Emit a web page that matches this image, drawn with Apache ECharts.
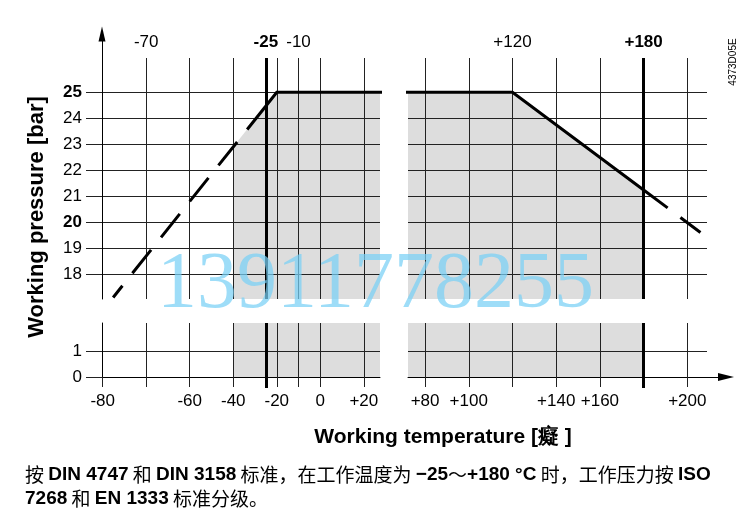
<!DOCTYPE html>
<html><head><meta charset="utf-8">
<script src="https://cdn.jsdelivr.net/npm/echarts@6/dist/echarts.min.js"></script>
<style>html,body{margin:0;padding:0;background:#fff}#c{width:742px;height:526px}</style>
</head><body><div id="c"></div>
<script>
// ---- data (temperature in °C, pressure in bar) ----
const envelope = [[-25, 24.47], [-20, 25], [120, 25], [180, 21.24]];
const shadedRegion = [[-40, 22.9], [-20, 25], [120, 25], [180, 21.24]];
const coldExtension = [[-25, 24.47], [-60, 20.8], [-77.6, 17.1]];
const hotExtension = [[180, 21.24], [206, 19.6]];
const leftGridTemps = [-80, -70, -60, -40, -20, -10, 0, 20];
const rightGridTemps = [80, 100, 120, 140, 160, 200];
const limitTemps = [-25, 180];
const bottomLabelsLeft = [-80, -60, -40, -20, 0, 20];
const bottomLabelsRight = [80, 100, 140, 160, 200];
const topLabelsLeft = [-70, -25, -10];
const topLabelsRight = [120, 180];
const pressureTicksHigh = [18, 19, 20, 21, 22, 23, 24, 25];
const pressureTicksLow = [0, 1];
const boldPressures = [20, 25];
const yTitle = 'Working pressure [bar]';
const xTitle = 'Working temperature [癡 ]';
const docCode = '4373D05E';
const caption = '按 {b|DIN 4747} 和 {b|DIN 3158} 标准，在工作温度为 {b|−25}～{b|+180 °C} 时，工作压力按 {b|ISO}\n{b|7268} 和 {b|EN 1333} 标准分级。';
const watermark = '13911778255';

// The drawing's temperature scale is stretched 2x below -60 °C (left panel)
const pos = t => t >= -60 ? t : -60 + 2 * (t + 60);
const deg = p => p >= -60 ? p : -60 + (p + 60) / 2;
const mapL = arr => arr.map(d => [pos(d[0]), d[1]]);

const FONT = '"Liberation Sans", Arial, sans-serif';
const fmtT = (v, inv) => {
  const t = Math.round(inv ? deg(v) : v);
  const s = t > 0 ? '+' + t : String(t);
  return limitTemps.indexOf(t) >= 0 ? '{b|' + s + '}' : s;
};
const fmtP = v => boldPressures.indexOf(Math.round(v)) >= 0 ? '{b|' + v + '}' : String(v);
const richB = { b: { fontWeight: 'bold', fontSize: 17, fontFamily: FONT, color: '#000' } };
const GRID_LINE = { color: '#222', width: 1 };
const BOLD_LINE = { color: '#000', width: 3 };

const LX = { min: -100.32, max: 27.44 };
const RX = { min: 72.2, max: 209.0 };
const UY = { min: 17.04, max: 26.32 };
const DY = { min: 0, max: 2.08 };

function topAxis(gi, ext, ticks, labels, inv) {
  return { gridIndex: gi, type: 'value', position: 'top', min: ext.min, max: ext.max, z: 3,
    axisLine: { show: false, onZero: false },
    axisTick: { show: false, customValues: ticks },
    axisLabel: { customValues: labels, margin: 7, fontSize: 17, fontFamily: FONT, color: '#000',
      formatter: v => fmtT(v, inv), rich: richB },
    splitLine: { show: true, lineStyle: GRID_LINE } };
}
function bottomAxis(gi, ext, ticks, labels, inv) {
  return { gridIndex: gi, type: 'value', position: 'bottom', min: ext.min, max: ext.max, z: 3,
    axisLine: { show: true, onZero: false, lineStyle: { color: '#000', width: 1 } },
    axisTick: { show: true, customValues: ticks, length: 10, lineStyle: GRID_LINE },
    axisLabel: { customValues: labels, margin: 16, fontSize: 17, fontFamily: FONT, color: '#000',
      formatter: v => fmtT(v, inv), rich: richB },
    splitLine: { show: true, lineStyle: GRID_LINE } };
}
function boldAxis(gi, ext, val, withTick) {
  return { gridIndex: gi, type: 'value', position: 'bottom', min: ext.min, max: ext.max, z: 4,
    axisLine: { show: false, onZero: false },
    axisTick: { show: withTick, customValues: [val], length: 11, lineStyle: BOLD_LINE },
    axisLabel: { show: false },
    splitLine: { show: true, lineStyle: BOLD_LINE } };
}
function yAxisDef(gi, ext, ticks, visible) {
  return { gridIndex: gi, type: 'value', min: ext.min, max: ext.max, z: 3,
    axisLine: { show: visible, onZero: false, lineStyle: { color: '#000', width: 1 } },
    axisTick: { show: visible, customValues: ticks, length: 16, lineStyle: GRID_LINE },
    axisLabel: { show: visible, customValues: ticks, margin: 20, fontSize: 17, fontFamily: FONT,
      color: '#000', formatter: fmtP, rich: richB },
    splitLine: { show: true, lineStyle: GRID_LINE } };
}
const hidden = gi => ({ gridIndex: gi, type: 'value', min: 0, max: 1, show: false });

const lTicks = leftGridTemps.map(pos);
const lim = [pos(limitTemps[0]), limitTemps[1]];

const shade = (xi, yi, data) => ({ type: 'line', xAxisIndex: xi, yAxisIndex: yi, data: data, z: 2,
  symbol: 'none', silent: true, clip: true, lineStyle: { width: 0, opacity: 0 },
  areaStyle: { color: '#dddddd', opacity: 1, origin: 'start' } });
const curve = (xi, yi, data, dash) => ({ type: 'line', xAxisIndex: xi, yAxisIndex: yi, data: data, z: 6,
  symbol: 'none', silent: true, clip: true,
  lineStyle: { color: '#000', width: 3, type: dash || 'solid', cap: 'butt', join: 'miter' } });

const option = {
  animation: false,
  backgroundColor: '#fff',
  grid: [
    { left: 102, top: 58, width: 278, height: 241 },
    { left: 102, top: 323, width: 278, height: 54 },
    { left: 408, top: 58, width: 299, height: 241 },
    { left: 408, top: 323, width: 299, height: 54 },
    { left: 102, top: 34, width: 10, height: 24 },
    { left: 707, top: 323, width: 19, height: 54 }
  ],
  xAxis: [
    topAxis(0, LX, lTicks, topLabelsLeft.map(pos), true),
    boldAxis(0, LX, lim[0], false),
    bottomAxis(1, LX, lTicks, bottomLabelsLeft.map(pos), true),
    boldAxis(1, LX, lim[0], true),
    topAxis(2, RX, rightGridTemps, topLabelsRight, false),
    boldAxis(2, RX, lim[1], false),
    bottomAxis(3, RX, rightGridTemps, bottomLabelsRight, false),
    boldAxis(3, RX, lim[1], true),
    hidden(4),
    { gridIndex: 5, type: 'value', min: 0, max: 1, z: 3,
      axisLine: { show: true, onZero: false, symbol: ['none', 'triangle'], symbolSize: [8, 16],
        lineStyle: { color: '#000', width: 1 } },
      axisTick: { show: false }, axisLabel: { show: false }, splitLine: { show: false } }
  ],
  yAxis: [
    yAxisDef(0, UY, pressureTicksHigh, true),
    yAxisDef(1, DY, pressureTicksLow, true),
    yAxisDef(2, UY, pressureTicksHigh, false),
    yAxisDef(3, DY, pressureTicksLow, false),
    { gridIndex: 4, type: 'value', min: 0, max: 1, z: 3,
      axisLine: { show: true, onZero: false, symbol: ['none', 'triangle'], symbolSize: [7, 15],
        lineStyle: { color: '#000', width: 1 } },
      axisTick: { show: false }, axisLabel: { show: false }, splitLine: { show: false } },
    hidden(5)
  ],
  series: [
    shade(0, 0, mapL(shadedRegion)),
    shade(2, 1, mapL(shadedRegion)),
    shade(4, 2, shadedRegion),
    shade(6, 3, shadedRegion),
    curve(0, 0, mapL(envelope)),
    curve(4, 2, envelope),
    curve(0, 0, mapL(coldExtension), [30, 16]),
    curve(4, 2, hotExtension, [30, 16])
  ],
  graphic: [
    { type: 'text', x: 37, y: 217, rotation: Math.PI / 2, z: 10,
      style: { text: yTitle, fontSize: 22, fontWeight: 'bold', fontFamily: FONT, fill: '#000',
        align: 'center', verticalAlign: 'middle' } },
    { type: 'text', x: 443, y: 437, z: 10,
      style: { text: xTitle, fontSize: 21, fontWeight: 'bold', fontFamily: FONT, fill: '#000',
        align: 'center', verticalAlign: 'middle' } },
    { type: 'text', x: 733, y: 62, rotation: Math.PI / 2, z: 10,
      style: { text: docCode, fontSize: 10, fontFamily: FONT, fill: '#000',
        align: 'center', verticalAlign: 'middle' } },
    { type: 'text', x: 25, y: 463, z: 10,
      style: { text: caption, fontSize: 19, fontFamily: '"Noto Sans CJK SC", sans-serif', fill: '#000',
        lineHeight: 24, align: 'left', verticalAlign: 'top',
        rich: { b: { fontWeight: 'bold', fontSize: 19, fontFamily: FONT, fill: '#000', lineHeight: 24 } } } },
    { type: 'text', x: 157, y: 286, z: 100,
      style: { text: watermark, fontSize: 80, fontFamily: '"Liberation Serif", serif',
        fill: 'rgba(120,208,245,0.72)', align: 'left', verticalAlign: 'middle' } }
  ]
};
echarts.init(document.getElementById('c'), null, { renderer: 'canvas' }).setOption(option);
</script></body></html>
